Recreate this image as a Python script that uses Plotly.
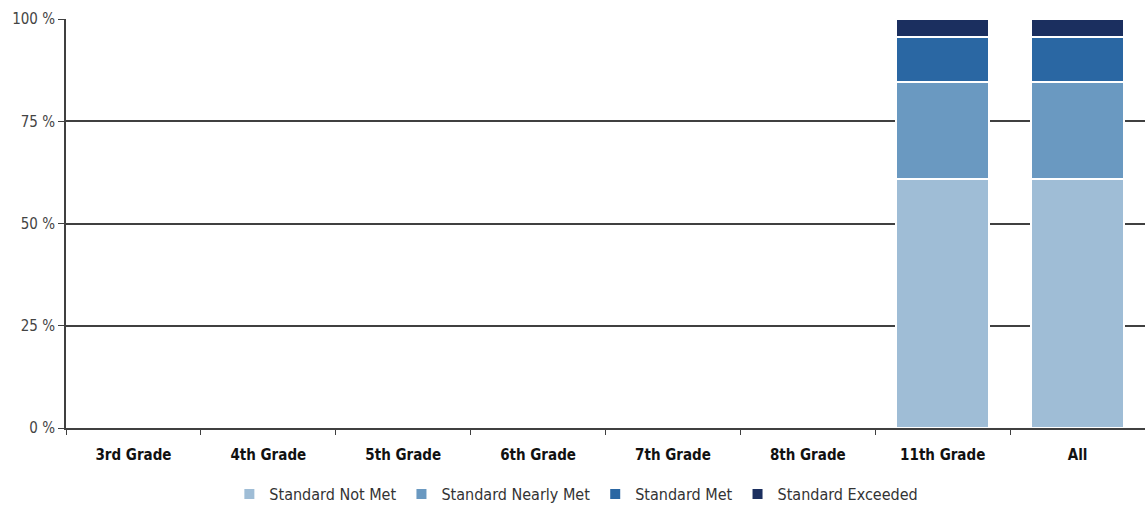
import plotly.graph_objects as go

categories = ["3rd Grade", "4th Grade", "5th Grade", "6th Grade", "7th Grade", "8th Grade", "11th Grade", "All"]
not_met = [None, None, None, None, None, None, 61, 61]
nearly_met = [None, None, None, None, None, None, 23.5, 23.5]
met = [None, None, None, None, None, None, 11, 11]
exceeded = [None, None, None, None, None, None, 4.5, 4.5]
y_ticks = [0, 25, 50, 75, 100]
y_tick_labels = ["0 %", "25 %", "50 %", "75 %", "100 %"]

series = [
    ("Standard Not Met", not_met, "#9fbdd6"),
    ("Standard Nearly Met", nearly_met, "#6a99c1"),
    ("Standard Met", met, "#2a67a3"),
    ("Standard Exceeded", exceeded, "#1b2f5f"),
]

font_family = "DejaVu Sans Condensed, Liberation Sans Narrow, Liberation Sans, Arial, sans-serif"

fig = go.Figure()
for name, vals, color in series:
    fig.add_trace(go.Bar(
        x=categories, y=vals, name=name,
        marker=dict(color=color, line=dict(color="white", width=2)),
        width=0.69,
    ))

fig.update_layout(
    barmode="stack",
    width=1145, height=508,
    margin=dict(l=66, r=0, t=19, b=80, autoexpand=False),
    paper_bgcolor="white", plot_bgcolor="white",
    font=dict(family=font_family, size=14, color="#444444"),
    showlegend=True,
    legend=dict(orientation="h", x=0.473, xanchor="center", y=-0.12, yanchor="top",
                font=dict(size=16, color="#333333"), traceorder="normal",
                itemwidth=30),
)
fig.update_yaxes(
    range=[0, 100], tickmode="array", tickvals=y_ticks, ticktext=y_tick_labels,
    showgrid=True, gridcolor="#404040", gridwidth=2,
    showline=True, linecolor="#404040", linewidth=2,
    ticks="outside", ticklen=6, tickcolor="#404040",
    zeroline=False, tickfont=dict(size=15, color="#444444"),
    automargin=False,
)
fig.update_xaxes(
    showline=True, linecolor="#404040", linewidth=2,
    ticks="outside", tickson="boundaries", ticklen=5, tickcolor="#404040",
    tickfont=dict(size=15, color="#111111", family=font_family),
    tickprefix="<b>", ticksuffix="</b>",
    ticklabelstandoff=12,
    showgrid=False, automargin=False,
)

fig.write_html("out.html")
